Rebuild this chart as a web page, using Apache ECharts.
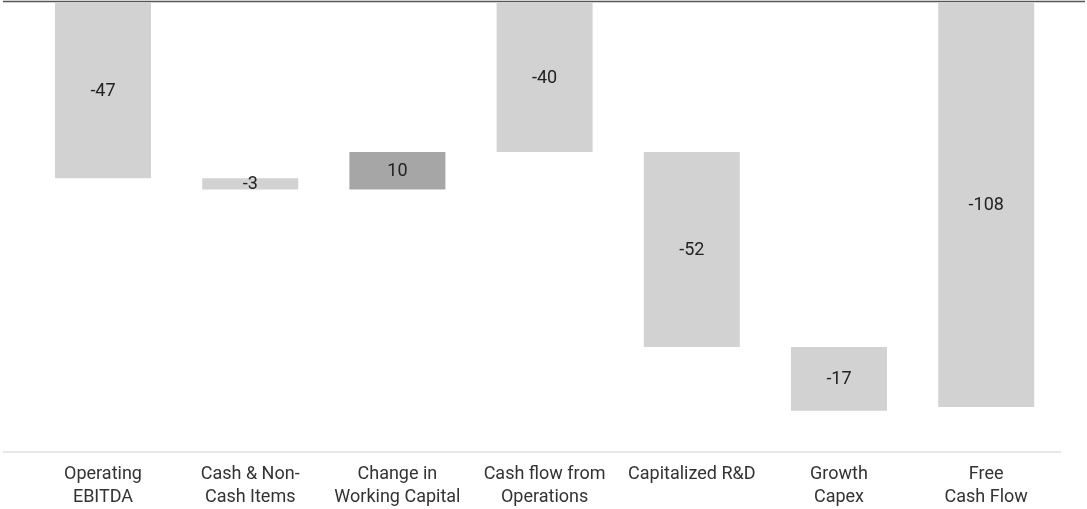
<!DOCTYPE html>
<html>
<head>
<meta charset="utf-8">
<script src="https://cdn.jsdelivr.net/npm/echarts@6/dist/echarts.min.js"></script>
<style>
html,body{margin:0;padding:0;background:#fff;}
#chart{width:1087px;height:509px;}
</style>
</head>
<body>
<div id="chart"></div>
<script>
const categories = ["Operating\nEBITDA", "Cash & Non-\nCash Items", "Change in\nWorking Capital", "Cash flow from\nOperations", "Capitalized R&D", "Growth\nCapex", "Free\nCash Flow"];
const values = [-47, -3, 10, -40, -52, -17, -108];
const isTotal = [false, false, false, true, false, false, true];
const yMin = -120;
const yMax = 0;

const LIGHT = '#d2d2d2';
const DARK = '#a6a6a6';

// waterfall: invisible base + visible segment (both stacked downward)
const base = [];
const seg = [];
let running = 0;
values.forEach((v, i) => {
  if (isTotal[i]) {
    base.push(0);
    seg.push({ value: v, itemStyle: { color: LIGHT } });
    running = v;
  } else {
    const start = running, end = running + v;
    const top = Math.max(start, end), bottom = Math.min(start, end);
    base.push(top);
    seg.push({ value: bottom - top, itemStyle: { color: v >= 0 ? DARK : LIGHT } });
    running = end;
  }
});

const chart = echarts.init(document.getElementById('chart'));
const option = {
  animation: false,
  backgroundColor: '#fff',
  textStyle: { fontFamily: 'Roboto' },
  grid: { left: 29.4, right: 27.2, top: 2, bottom: 57 },
  xAxis: {
    type: 'category',
    data: categories,
    axisLine: { show: false },
    axisTick: { show: false },
    axisLabel: { color: '#333', fontSize: 18, lineHeight: 23, margin: 11, interval: 0, fontFamily: 'Roboto' }
  },
  yAxis: {
    type: 'value',
    min: yMin,
    max: yMax,
    show: false,
    splitLine: { show: false }
  },
  series: [
    {
      type: 'bar', stack: 'w', data: base, barWidth: 96,
      itemStyle: { color: 'transparent' }, silent: true, z: 3
    },
    {
      type: 'bar', stack: 'w', data: seg, barWidth: 96, z: 3,
      label: {
        show: true, position: 'inside', color: '#222', fontSize: 18, fontFamily: 'Roboto',
        offset: [0, 1],
        formatter: p => String(values[p.dataIndex])
      }
    }
  ]
};
chart.setOption(option);

const yZero = chart.convertToPixel({ yAxisIndex: 0 }, 0);
const yBottom = chart.convertToPixel({ yAxisIndex: 0 }, yMin);
chart.setOption({
  graphic: [
    { type: 'line', z: 1, shape: { x1: 3, y1: yZero - 0.5, x2: 1085, y2: yZero - 0.5 }, style: { stroke: '#555', lineWidth: 1.5 } },
    { type: 'line', z: 1, shape: { x1: 3, y1: yBottom, x2: 1061, y2: yBottom }, style: { stroke: '#cfcfcf', lineWidth: 1 } }
  ]
});
</script>
</body>
</html>
